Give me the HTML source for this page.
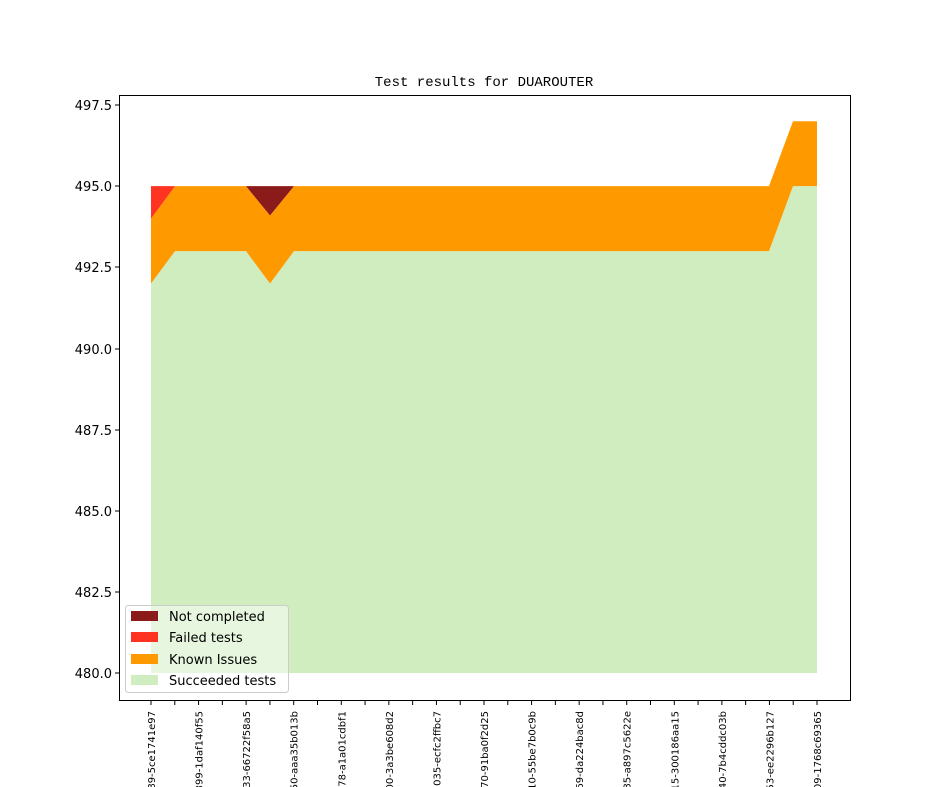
<!DOCTYPE html>
<html><head><style>html,body{margin:0;background:#fff;width:944px;height:787px;overflow:hidden}svg{display:block}</style></head><body>
<svg width="944" height="787" xmlns="http://www.w3.org/2000/svg" font-family="DejaVu Sans, sans-serif">
<rect width="944" height="787" fill="#fff"/>
<polygon fill="#cfedbe" points="151,673 151,283.5 175,251.1 246,251.1 270,283.5 294,251.1 769,251.1 793,186.1 817,186.1 817,673"/>
<polygon fill="#ff9900" points="151,283.5 175,251.1 246,251.1 270,283.5 294,251.1 769,251.1 793,186.1 817,186.1 817,121.2 793,121.2 769,186.1 294,186.1 270,215.5 246,186.1 175,186.1 151,218.6"/>
<polygon fill="#ff3322" points="151,218.6 175,186.1 151,186.1"/>
<polygon fill="#8b1a1a" points="246,186.1 294,186.1 270,215.5"/>
<rect x="119.5" y="95.5" width="731" height="605" fill="none" stroke="#000" stroke-width="1"/>
<text x="484" y="86" font-family="Liberation Mono, monospace" font-size="14" text-anchor="middle">Test results for DUAROUTER</text>
<g font-size="13" text-anchor="end">
<text x="112" y="110">497.5</text><text x="112" y="191">495.0</text><text x="112" y="272">492.5</text><text x="112" y="354">490.0</text><text x="112" y="435">487.5</text><text x="112" y="516">485.0</text><text x="112" y="597">482.5</text><text x="112" y="678">480.0</text>
</g>
<g stroke="#000">
<line x1="115" x2="119" y1="105" y2="105"/><line x1="115" x2="119" y1="186" y2="186"/><line x1="115" x2="119" y1="267" y2="267"/><line x1="115" x2="119" y1="349" y2="349"/><line x1="115" x2="119" y1="430" y2="430"/><line x1="115" x2="119" y1="511" y2="511"/><line x1="115" x2="119" y1="592" y2="592"/><line x1="115" x2="119" y1="673" y2="673"/>
</g>
<g id="xt" stroke="#000"></g>
<g id="xl" font-size="10"></g>
<g>
<rect x="125.5" y="605.5" width="163" height="87" rx="3" fill="#fff" fill-opacity="0.5" stroke="#ccc"/>
<rect x="131" y="611" width="27" height="10" fill="#8b1a1a"/><text x="169" y="621" font-size="13">Not completed</text>
<rect x="131" y="632" width="27" height="10" fill="#ff3322"/><text x="169" y="642" font-size="13">Failed tests</text>
<rect x="131" y="654" width="27" height="10" fill="#ff9900"/><text x="169" y="664" font-size="13">Known Issues</text>
<rect x="131" y="675" width="27" height="10" fill="#cfedbe"/><text x="169" y="685" font-size="13">Succeeded tests</text>
</g>
</svg>
<script>
var labs=["89-5ce1741e97","399-1daf140f55","33-66722f58a5","50-aaa35b013b","78-a1a01cdbf1","00-3a3be608d2","035-ecfc2ffbc7","70-91ba0f2d25","10-55be7b0c9b","69-da224bac8d","85-a897c5622e","15-300186aa15","40-7b4cddc03b","53-ee2296b127","09-1768c69365"];
var t=document.getElementById('xt'),l=document.getElementById('xl'),ns="http://www.w3.org/2000/svg";
for(var i=0;i<29;i++){var x=151+i*23.786;var e=document.createElementNS(ns,'line');e.setAttribute('x1',x);e.setAttribute('x2',x);e.setAttribute('y1',701);e.setAttribute('y2',705);t.appendChild(e);}
for(var i=0;i<15;i++){var x=151+i*47.57+4;var e=document.createElementNS(ns,'text');e.setAttribute('transform','translate('+x+',711) rotate(-90)');e.setAttribute('text-anchor','end');e.textContent=labs[i];l.appendChild(e);}
</script>
</body></html>
